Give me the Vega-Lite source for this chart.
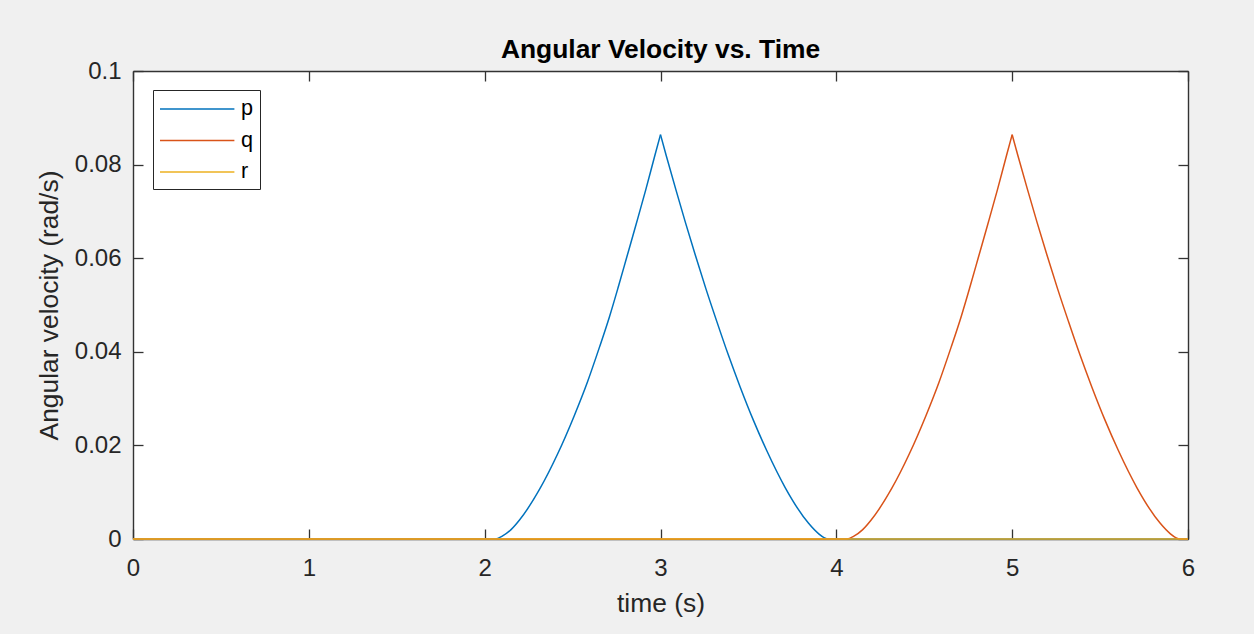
{
  "$schema": "https://vega.github.io/schema/vega-lite/v6.json",
  "width": 1055,
  "height": 468,
  "autosize": {"type": "none"},
  "padding": {"left": 133, "top": 71, "right": 66, "bottom": 95},
  "background": "#f0f0f0",
  "view": {"fill": "white", "stroke": null},
  "config": {
    "font": "Liberation Sans",
    "axis": {"labelFont": "Liberation Sans", "titleFont": "Liberation Sans", "labelColor": "#262626", "titleColor": "#262626", "domainColor": "#333333", "tickColor": "#333333", "domainWidth": 1.4, "tickWidth": 1.3, "grid": false, "zindex": 1}
  },
  "title": {"text": "Angular Velocity vs. Time", "fontSize": 26.4, "fontWeight": "bold", "color": "#000000", "font": "Liberation Sans", "anchor": "middle", "baseline": "alphabetic", "offset": 13, "dy": 38},
  "data": {"values": [
    {"t": 0, "v": 0, "s": "p", "part": "a"},
    {"t": 2.06, "v": 0, "s": "p", "part": "a"},
    {"t": 2.10, "v": 0.0006, "s": "p", "part": "a"},
    {"t": 2.15, "v": 0.002, "s": "p", "part": "a"},
    {"t": 2.197, "v": 0.004, "s": "p", "part": "a"},
    {"t": 2.315, "v": 0.0108, "s": "p", "part": "a"},
    {"t": 2.414, "v": 0.0181, "s": "p", "part": "a"},
    {"t": 2.509, "v": 0.0263, "s": "p", "part": "a"},
    {"t": 2.584, "v": 0.0335, "s": "p", "part": "a"},
    {"t": 2.653, "v": 0.041, "s": "p", "part": "a"},
    {"t": 2.709, "v": 0.0474, "s": "p", "part": "a"},
    {"t": 2.761, "v": 0.054, "s": "p", "part": "a"},
    {"t": 2.808, "v": 0.0602, "s": "p", "part": "a"},
    {"t": 2.861, "v": 0.0672, "s": "p", "part": "a"},
    {"t": 2.916, "v": 0.0746, "s": "p", "part": "a"},
    {"t": 2.969, "v": 0.0821, "s": "p", "part": "a"},
    {"t": 3.0, "v": 0.0864, "s": "p", "part": "a"},
    {"t": 3.0, "v": 0.0864, "s": "p", "part": "b"},
    {"t": 3.032, "v": 0.082, "s": "p", "part": "b"},
    {"t": 3.087, "v": 0.0747, "s": "p", "part": "b"},
    {"t": 3.142, "v": 0.0676, "s": "p", "part": "b"},
    {"t": 3.197, "v": 0.0608, "s": "p", "part": "b"},
    {"t": 3.258, "v": 0.0535, "s": "p", "part": "b"},
    {"t": 3.32, "v": 0.0465, "s": "p", "part": "b"},
    {"t": 3.385, "v": 0.0394, "s": "p", "part": "b"},
    {"t": 3.453, "v": 0.0325, "s": "p", "part": "b"},
    {"t": 3.528, "v": 0.0254, "s": "p", "part": "b"},
    {"t": 3.604, "v": 0.0189, "s": "p", "part": "b"},
    {"t": 3.709, "v": 0.011, "s": "p", "part": "b"},
    {"t": 3.841, "v": 0.0034, "s": "p", "part": "b"},
    {"t": 3.9, "v": 0.0011, "s": "p", "part": "b"},
    {"t": 3.93, "v": 0.0003, "s": "p", "part": "b"},
    {"t": 3.955, "v": 0, "s": "p", "part": "b"},
    {"t": 6, "v": 0, "s": "p", "part": "b"},
    {"t": 0, "v": 0, "s": "q", "part": "a"},
    {"t": 4.06, "v": 0, "s": "q", "part": "a"},
    {"t": 4.10, "v": 0.0006, "s": "q", "part": "a"},
    {"t": 4.15, "v": 0.002, "s": "q", "part": "a"},
    {"t": 4.197, "v": 0.004, "s": "q", "part": "a"},
    {"t": 4.315, "v": 0.0108, "s": "q", "part": "a"},
    {"t": 4.414, "v": 0.0181, "s": "q", "part": "a"},
    {"t": 4.509, "v": 0.0263, "s": "q", "part": "a"},
    {"t": 4.584, "v": 0.0335, "s": "q", "part": "a"},
    {"t": 4.653, "v": 0.041, "s": "q", "part": "a"},
    {"t": 4.709, "v": 0.0474, "s": "q", "part": "a"},
    {"t": 4.761, "v": 0.054, "s": "q", "part": "a"},
    {"t": 4.808, "v": 0.0602, "s": "q", "part": "a"},
    {"t": 4.861, "v": 0.0672, "s": "q", "part": "a"},
    {"t": 4.916, "v": 0.0746, "s": "q", "part": "a"},
    {"t": 4.969, "v": 0.0821, "s": "q", "part": "a"},
    {"t": 5.0, "v": 0.0864, "s": "q", "part": "a"},
    {"t": 5.0, "v": 0.0864, "s": "q", "part": "b"},
    {"t": 5.032, "v": 0.082, "s": "q", "part": "b"},
    {"t": 5.087, "v": 0.0747, "s": "q", "part": "b"},
    {"t": 5.142, "v": 0.0676, "s": "q", "part": "b"},
    {"t": 5.197, "v": 0.0608, "s": "q", "part": "b"},
    {"t": 5.258, "v": 0.0535, "s": "q", "part": "b"},
    {"t": 5.32, "v": 0.0465, "s": "q", "part": "b"},
    {"t": 5.385, "v": 0.0394, "s": "q", "part": "b"},
    {"t": 5.453, "v": 0.0325, "s": "q", "part": "b"},
    {"t": 5.528, "v": 0.0254, "s": "q", "part": "b"},
    {"t": 5.604, "v": 0.0189, "s": "q", "part": "b"},
    {"t": 5.709, "v": 0.011, "s": "q", "part": "b"},
    {"t": 5.841, "v": 0.0034, "s": "q", "part": "b"},
    {"t": 5.9, "v": 0.0011, "s": "q", "part": "b"},
    {"t": 5.93, "v": 0.0003, "s": "q", "part": "b"},
    {"t": 5.955, "v": 0, "s": "q", "part": "b"},
    {"t": 6, "v": 0, "s": "q", "part": "b"},
    {"t": 0, "v": 0, "s": "r", "part": "a"},
    {"t": 6, "v": 0, "s": "r", "part": "a"}
  ]},
  "resolve": {"axis": {"x": "independent", "y": "independent"}},
  "layer": [
    {
      "mark": {"type": "line", "strokeWidth": 1.5, "clip": false, "interpolate": "monotone"},
      "encoding": {
        "x": {"field": "t", "type": "quantitative", "scale": {"domain": [0, 6], "nice": false, "zero": false},
              "axis": {"orient": "bottom", "values": [0, 1, 2, 3, 4, 5, 6], "tickSize": -10, "labelPadding": 46, "labelBaseline": "alphabetic", "labelFontSize": 24, "labelFlush": false,
                       "title": "time (s)", "titleFontSize": 26.4, "titleFontWeight": "normal", "titleBaseline": "alphabetic", "titleX": 527.5, "titleY": 72.7, "titleAnchor": null}},
        "y": {"field": "v", "type": "quantitative", "scale": {"domain": [0, 0.1], "nice": false, "zero": false},
              "axis": {"orient": "left", "values": [0, 0.02, 0.04, 0.06, 0.08, 0.1], "format": "~g", "tickSize": -10, "labelPadding": 22, "labelBaseline": "middle", "labelFontSize": 24, "labelFlush": false,
                       "title": "Angular velocity (rad/s)", "titleFontSize": 26.4, "titleFontWeight": "normal", "titleAngle": -90, "titleBaseline": "alphabetic", "titleAlign": "center", "titleX": -76, "titleY": 234}},
        "detail": {"field": "part", "type": "nominal"},
        "color": {"field": "s", "type": "nominal", "scale": {"domain": ["p", "q", "r"], "range": ["#0072BD", "#D95319", "#EDB120"]},
                  "legend": {"orient": "none", "legendX": 20, "legendY": 19, "title": null, "fillColor": "white", "strokeColor": "#262626", "padding": 6,
                             "symbolType": "M-1,0H5.2", "symbolSize": 576, "symbolStrokeWidth": 1.5, "labelFontSize": 21.6, "labelColor": "#000000", "labelFont": "Liberation Sans", "labelOffset": 56, "rowPadding": 7.5}}
      }
    },
    {
      "mark": {"type": "point", "opacity": 0},
      "encoding": {
        "x": {"field": "t", "type": "quantitative", "axis": {"orient": "top", "values": [0, 1, 2, 3, 4, 5, 6], "tickSize": -10, "labels": false, "title": null}},
        "y": {"field": "v", "type": "quantitative", "axis": {"orient": "right", "values": [0, 0.02, 0.04, 0.06, 0.08, 0.1], "tickSize": -10, "labels": false, "title": null}}
      }
    }
  ]
}
